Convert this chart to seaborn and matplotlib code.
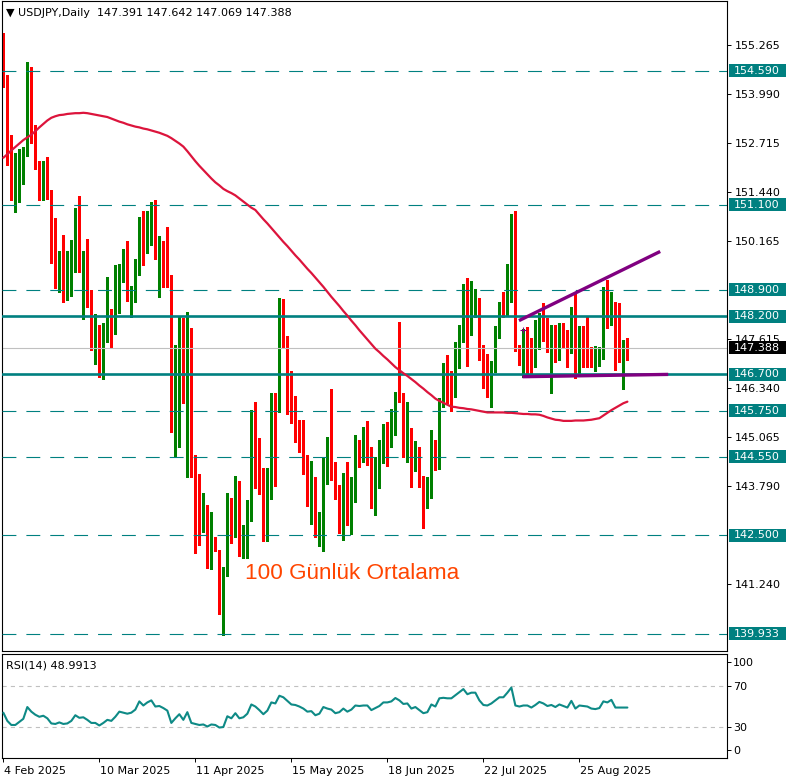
import numpy as np
import pandas as pd
import matplotlib
matplotlib.use("Agg")
import matplotlib.pyplot as plt
import matplotlib.transforms as mtransforms
from matplotlib.patches import Rectangle
import seaborn as sns

# ---------------- data ----------------
title_text = "▼ USDJPY,Daily  147.391 147.642 147.069 147.388"
rsi_label = "RSI(14) 48.9913"
annot_text = "100 Günlük Ortalama"

opens = [154.69, 154.30, 152.56, 151.34, 151.44, 151.93, 152.43, 154.38, 152.79, 152.22,
         151.47, 151.99, 151.49, 149.67, 149.33, 149.67, 148.97, 148.97, 149.80, 150.71,
         149.49, 149.75, 148.89, 147.95, 147.90, 147.27, 147.79, 148.26, 147.79, 148.65,
         149.20, 149.28, 148.71, 148.76, 149.31, 150.74, 149.88, 150.61, 151.07, 149.75,
         149.98, 149.64, 149.25, 146.05, 145.77, 147.85, 146.26, 147.59, 144.59, 143.97,
         142.98, 143.16, 141.81, 142.38, 142.12, 140.77, 141.55, 143.47, 142.59, 143.66,
         141.99, 142.30, 143.03, 145.40, 144.62, 143.71, 142.38, 143.76, 145.92, 146.36,
         148.47, 147.48, 146.78, 145.69, 145.24, 144.83, 144.52, 143.66, 144.02, 142.49,
         142.82, 144.31, 144.83, 144.18, 143.81, 142.64, 143.94, 142.72, 143.47, 144.83,
         144.54, 144.85, 144.54, 143.47, 144.00, 144.67, 145.24, 145.06, 145.45, 146.65,
         146.08, 144.85, 145.22, 144.39, 144.36, 143.97, 143.34, 143.60, 144.93, 144.41,
         146.03, 146.55, 146.34, 146.23, 147.45, 147.67, 148.86, 147.82, 148.55, 147.95,
         147.30, 146.62, 146.47, 147.01, 147.74, 148.47, 148.39, 149.49, 150.71, 147.27,
         147.07, 147.64, 147.33, 147.09, 147.53, 148.16, 147.87, 147.30, 147.77, 147.14,
         147.90, 147.61, 147.27, 148.39, 146.88, 147.77, 147.40, 147.38, 146.83, 147.01,
         147.12, 148.42, 148.06, 148.50, 148.19, 147.36, 147.391]
highs = [155.58, 154.48, 152.92, 152.45, 152.56, 152.61, 154.82, 154.69, 153.18, 152.25,
         152.25, 152.35, 151.50, 150.76, 149.90, 150.32, 149.90, 150.19, 151.02, 151.34,
         149.90, 150.22, 148.90, 148.26, 147.98, 148.03, 149.23, 148.39, 149.54, 149.57,
         149.96, 150.16, 148.99, 149.70, 150.79, 150.94, 150.94, 151.18, 151.23, 150.29,
         150.16, 150.53, 149.28, 147.46, 148.19, 148.16, 148.32, 147.90, 144.60, 144.10,
         143.60, 143.29, 143.11, 142.46, 142.13, 141.68, 143.60, 143.48, 144.05, 143.92,
         142.77, 143.42, 145.77, 145.97, 145.04, 144.26, 144.26, 146.21, 146.21, 148.68,
         148.65, 147.69, 146.79, 146.13, 145.51, 145.51, 144.59, 144.44, 144.03, 143.11,
         144.52, 145.06, 146.31, 144.41, 143.82, 144.13, 144.41, 144.02, 145.11, 144.98,
         145.32, 145.48, 144.80, 144.54, 144.98, 145.40, 145.45, 145.79, 146.23, 148.06,
         146.21, 145.97, 145.30, 144.96, 144.80, 144.05, 144.02, 145.24, 144.98, 146.08,
         146.99, 147.20, 146.78, 147.53, 147.98, 149.04, 149.20, 149.12, 148.91, 148.68,
         147.46, 147.22, 147.04, 147.95, 148.58, 148.84, 149.57, 150.87, 150.94, 147.46,
         147.87, 147.93, 147.64, 148.11, 148.29, 148.55, 148.16, 147.98, 147.98, 148.03,
         148.03, 147.85, 148.45, 148.81, 147.95, 147.95, 148.21, 147.40, 147.43, 147.40,
         148.97, 149.15, 148.84, 148.58, 148.55, 147.59, 147.642]
lows = [154.17, 152.14, 151.23, 150.92, 151.18, 151.65, 152.38, 152.71, 152.04, 151.23,
        151.23, 151.26, 149.59, 148.94, 148.84, 148.58, 148.63, 148.73, 149.36, 149.36,
        148.13, 148.45, 147.33, 146.96, 146.62, 146.57, 147.53, 147.40, 147.74, 148.29,
        149.10, 148.60, 148.19, 148.58, 149.28, 149.54, 149.85, 150.06, 149.70, 148.71,
        148.97, 148.97, 145.19, 144.54, 144.80, 145.95, 144.02, 144.02, 142.04, 142.25,
        142.59, 141.65, 141.63, 142.10, 140.46, 139.90, 141.44, 142.30, 142.46, 141.97,
        141.91, 141.91, 142.88, 143.73, 143.58, 142.36, 142.36, 143.45, 143.79, 145.71,
        147.38, 145.66, 145.43, 144.93, 144.67, 144.10, 143.27, 142.80, 142.46, 142.23,
        142.10, 143.84, 143.94, 143.45, 142.56, 142.38, 142.77, 142.54, 143.37, 144.28,
        144.41, 144.33, 143.21, 143.03, 143.73, 144.39, 144.31, 144.80, 145.11, 145.97,
        144.54, 144.41, 143.76, 144.18, 143.76, 142.69, 143.21, 143.47, 144.20, 144.23,
        145.84, 145.95, 145.74, 146.10, 146.86, 147.53, 146.91, 147.72, 148.19, 147.07,
        146.34, 146.10, 145.84, 146.75, 147.64, 148.19, 148.24, 148.58, 147.30, 146.94,
        146.62, 146.70, 146.68, 146.88, 147.35, 147.56, 147.27, 146.21, 147.01, 147.07,
        147.40, 146.88, 147.25, 146.60, 146.73, 146.88, 146.88, 146.88, 146.78, 146.91,
        147.09, 147.90, 147.98, 146.81, 147.01, 146.31, 147.069]
closes = [154.35, 152.53, 151.36, 151.47, 151.96, 152.45, 154.46, 152.79, 152.35, 151.49,
          152.06, 151.47, 149.64, 149.33, 149.72, 149.02, 149.10, 149.83, 150.61, 149.51,
          149.75, 148.89, 148.00, 148.03, 147.27, 147.79, 148.26, 147.82, 148.65, 149.23,
          149.33, 148.68, 148.81, 149.33, 150.74, 149.90, 150.63, 151.07, 149.83, 149.98,
          149.62, 149.25, 146.05, 146.88, 147.85, 146.26, 147.90, 144.44, 143.45, 142.98,
          143.16, 141.83, 142.38, 142.15, 140.82, 141.57, 143.47, 142.62, 143.68, 141.99,
          142.30, 143.06, 145.45, 144.93, 143.73, 142.38, 143.84, 145.92, 145.35, 148.50,
          147.48, 146.75, 145.69, 145.61, 144.88, 144.52, 143.66, 144.02, 142.56, 142.85,
          144.33, 144.83, 144.18, 143.99, 142.64, 143.94, 142.77, 143.47, 144.85, 144.54,
          144.88, 144.54, 143.47, 144.13, 144.78, 145.24, 145.09, 145.45, 146.05, 146.08,
          144.91, 145.22, 144.39, 144.67, 143.99, 143.34, 143.63, 144.93, 144.41, 146.03,
          146.57, 146.34, 146.23, 147.46, 147.72, 148.86, 147.82, 148.58, 148.78, 147.30,
          146.62, 146.47, 147.01, 147.69, 148.50, 148.42, 149.51, 150.76, 147.35, 147.09,
          147.72, 147.35, 147.09, 147.74, 148.16, 147.85, 147.38, 147.77, 147.14, 147.90,
          147.67, 147.33, 148.39, 146.91, 147.79, 147.38, 147.38, 146.96, 147.04, 147.22,
          148.42, 148.08, 148.50, 147.35, 147.35, 147.39, 147.388]

ma100 = [152.33, 152.42, 152.52, 152.61, 152.70, 152.79, 152.86, 152.93, 153.02, 153.12,
         153.21, 153.30, 153.37, 153.41, 153.44, 153.45, 153.47, 153.48, 153.49, 153.49,
         153.50, 153.49, 153.47, 153.45, 153.43, 153.41, 153.39, 153.35, 153.31, 153.27,
         153.24, 153.20, 153.17, 153.14, 153.12, 153.09, 153.07, 153.04, 153.01, 152.98,
         152.94, 152.90, 152.84, 152.77, 152.70, 152.62, 152.50, 152.37, 152.24, 152.12,
         152.01, 151.90, 151.79, 151.69, 151.61, 151.52, 151.46, 151.41, 151.35, 151.27,
         151.19, 151.11, 151.03, 150.97, 150.85, 150.73, 150.62, 150.50, 150.38, 150.26,
         150.14, 150.03, 149.91, 149.79, 149.68, 149.56, 149.44, 149.33, 149.21, 149.09,
         148.97, 148.84, 148.71, 148.59, 148.47, 148.34, 148.22, 148.09, 147.97, 147.84,
         147.72, 147.60, 147.48, 147.36, 147.27, 147.17, 147.08, 146.98, 146.88, 146.80,
         146.72, 146.65, 146.57, 146.49, 146.40, 146.32, 146.23, 146.15, 146.06, 146.00,
         145.95, 145.90, 145.85, 145.84, 145.82, 145.81, 145.79, 145.78, 145.76, 145.74,
         145.72, 145.70, 145.70, 145.70, 145.70, 145.70, 145.69, 145.69, 145.68, 145.67,
         145.66, 145.66, 145.65, 145.65, 145.64, 145.61, 145.57, 145.54, 145.51, 145.50,
         145.48, 145.48, 145.48, 145.49, 145.49, 145.49, 145.50, 145.51, 145.53, 145.55,
         145.62, 145.69, 145.76, 145.82, 145.88, 145.94, 145.98]

rsi14 = [44, 36, 32, 32, 35, 38, 49.5, 45, 42, 40,
         41, 38.5, 33.5, 33, 34.5, 33, 33.5, 36, 41.5, 39,
         39.5, 37, 34, 34, 31.5, 34, 37, 36, 40, 45,
         44, 43, 44, 47, 55, 51, 54, 56, 50, 50.5,
         48.5, 46, 34, 38.5, 42.5, 37, 44.5, 34, 33, 32,
         32.5, 30.5, 32.5, 32, 29.5, 30, 40.5, 38.5, 43.5, 38.5,
         39.5, 43, 52, 50, 46.5, 42.5, 46, 54, 53, 60.5,
         59, 55.5, 52, 51.5, 50, 48, 45, 45.5, 41.5, 43,
         49.5, 48, 47, 43.5, 44.5, 48, 45, 47, 51, 50.5,
         51, 51, 46.5, 48.5, 50.5, 54, 54, 55, 58.3, 56,
         52.5, 53, 48, 49.5, 46.5, 43.5, 44.5, 52, 50, 58,
         58.5, 58, 58, 61, 64, 67, 62, 63.5, 63.5, 56,
         51.5, 51, 53, 56, 59, 59, 63.5, 68.5, 51, 50,
         51, 51, 49, 51.5, 54.5, 53, 50.5, 51.5, 49.5, 52,
         50.5, 49, 55.5, 48, 51, 50.5, 50, 48, 47.5, 48.5,
         55, 54, 56.5, 49, 49, 49, 48.99]

dashed_levels = [154.590, 151.100, 148.900, 145.750, 144.550, 142.500, 139.933]
solid_levels = [148.200, 146.700]
current_price = 147.388

price_ticks = [155.265, 153.990, 152.715, 151.440, 150.165, 147.615, 146.340,
               145.065, 143.790, 141.240]
rsi_levels = [70, 30]
rsi_tick_pos = [93, 70, 30, 8]
rsi_tick_labels = ["100", "70", "30", "0"]

date_tick_bars = [0, 24, 48, 72, 96, 120, 144]
date_tick_labels = ["4 Feb 2025", "10 Mar 2025", "11 Apr 2025", "15 May 2025",
                    "18 Jun 2025", "22 Jul 2025", "25 Aug 2025"]

trend_upper_x = [128.9, 164.2]
trend_upper_y = [148.09, 149.89]
trend_lower_x = [129.8, 166.2]
trend_lower_y = [146.63, 146.69]
annot_x, annot_y = 60.4, 141.365

# ---------------- style ----------------
sns.set_style("white")
plt.rcParams['font.family'] = ['DejaVu Sans']
plt.rcParams['lines.scale_dashes'] = False

W, H = 791, 782
fig = plt.figure(figsize=(W / 100, H / 100), dpi=100, facecolor='white')


def px_rect(x0, y0, x1, y1):
    return [x0 / W, 1 - y1 / H, (x1 - x0) / W, (y1 - y0) / H]


ax = fig.add_axes(px_rect(2, 1, 727, 651))
ax2 = fig.add_axes(px_rect(2, 653.5, 727, 758))

df = pd.DataFrame({"bar": np.arange(len(opens)), "open": opens, "high": highs,
                   "low": lows, "close": closes, "ma": ma100, "rsi": rsi14})
up = df["close"] >= df["open"]
cols = np.where(up, '#008000', '#FF0000')

# candles
ax.vlines(df["bar"], df["low"], df["high"], colors=cols, lw=0.75, zorder=2,
          antialiased=False)
body_bottom = np.minimum(df["open"], df["close"])
body_h = np.maximum(np.abs(df["close"] - df["open"]), 0.028)
ax.bar(df["bar"], body_h, bottom=body_bottom, width=0.78, color=cols, lw=0,
       zorder=2.1, antialiased=False)

# level lines
for v in dashed_levels:
    ax.axhline(v, color='#008080', lw=0.8, dashes=(10, 7.2), zorder=3)
for v in solid_levels:
    ax.axhline(v, color='#008080', lw=1.9, zorder=3)
ax.axhline(current_price, color='#C0C0C0', lw=0.8, zorder=2.5)

# 100 day MA
sns.lineplot(data=df, x="bar", y="ma", ax=ax, color='#DC143C', lw=1.6, zorder=4)

# trend lines
ax.plot(trend_upper_x, trend_upper_y, color='#800080', lw=2.4, zorder=5,
        solid_capstyle='butt')
ax.plot(trend_lower_x, trend_lower_y, color='#800080', lw=2.4, zorder=5,
        solid_capstyle='butt')
ax.plot([trend_upper_x[0] + 1.0], [147.85], marker='+', color='#800080', ms=4, mew=0.8,
        zorder=5)

ax.text(annot_x, annot_y, annot_text, color='#FF4500', fontsize=16.2,
        family=['Liberation Sans', 'DejaVu Sans'], va='baseline', ha='left', zorder=6)

xlim = (-0.33, 180.9)
ax.set_xlim(*xlim)
ax.set_ylim(139.49, 156.41)
ax.set_ylabel("")
ax.set_xlabel("")
ax.yaxis.tick_right()
ax.set_yticks(price_ticks)
ax.set_yticklabels([f"{v:.3f}" for v in price_ticks])
ax.tick_params(axis='y', direction='out', length=3, width=0.7, pad=2.6,
               labelsize=8, colors='black', right=True, left=False)
ax.tick_params(axis='x', bottom=False, labelbottom=False)
for s in ax.spines.values():
    s.set_color('black')
    s.set_linewidth(0.8)

# level boxes
trans = mtransforms.blended_transform_factory(ax.transAxes, ax.transData)
bx0 = (729 - 2) / 725
bw = 57 / 725
bh = 13 * (156.41 - 139.49) / 650
tx = (734 - 2) / 725
for v in dashed_levels + solid_levels:
    ax.add_patch(Rectangle((bx0, v - bh / 2), bw, bh, transform=trans, fc='#008080',
                           ec='none', clip_on=False, zorder=10))
    ax.text(tx, v, f"{v:.3f}", transform=trans, color='white', fontsize=8,
            va='center', ha='left', clip_on=False, zorder=11)
ax.add_patch(Rectangle((bx0, current_price - bh / 2), bw, bh, transform=trans,
                       fc='black', ec='none', clip_on=False, zorder=10))
ax.text(tx, current_price, f"{current_price:.3f}", transform=trans, color='white',
        fontsize=8, va='center', ha='left', clip_on=False, zorder=11)

# RSI panel
for v in rsi_levels:
    ax2.axhline(v, color='#C0C0C0', lw=0.8, dashes=(3, 3), zorder=1)
sns.lineplot(data=df, x="bar", y="rsi", ax=ax2, color='#0E8A86', lw=1.5, zorder=3)
ax2.set_xlim(*xlim)
ax2.set_ylim(-0.2, 101.7)
ax2.set_ylabel("")
ax2.set_xlabel("")
ax2.yaxis.tick_right()
ax2.set_yticks(rsi_tick_pos)
ax2.set_yticklabels(rsi_tick_labels)
ax2.tick_params(axis='y', direction='out', length=3, width=0.7, pad=1.2,
                labelsize=8, colors='black', right=True, left=False)
ax2.set_xticks(date_tick_bars)
ax2.set_xticklabels(date_tick_labels)
ax2.tick_params(axis='x', direction='out', length=3, width=0.7, pad=2.5,
                labelsize=8, colors='black', bottom=True)
offset = mtransforms.ScaledTranslation(1 / 100, 0, fig.dpi_scale_trans)
for lab in ax2.get_xticklabels():
    lab.set_ha('left')
    lab.set_transform(lab.get_transform() + offset)
for s in ax2.spines.values():
    s.set_color('black')
    s.set_linewidth(0.8)

fig.text(6 / W, 1 - 12.8 / H, title_text, fontsize=8, color='black', va='center',
         ha='left')
fig.text(6 / W, 1 - 665 / H, rsi_label, fontsize=8, color='black', va='center',
         ha='left')

fig.savefig("out.png", dpi=100, facecolor='white')
